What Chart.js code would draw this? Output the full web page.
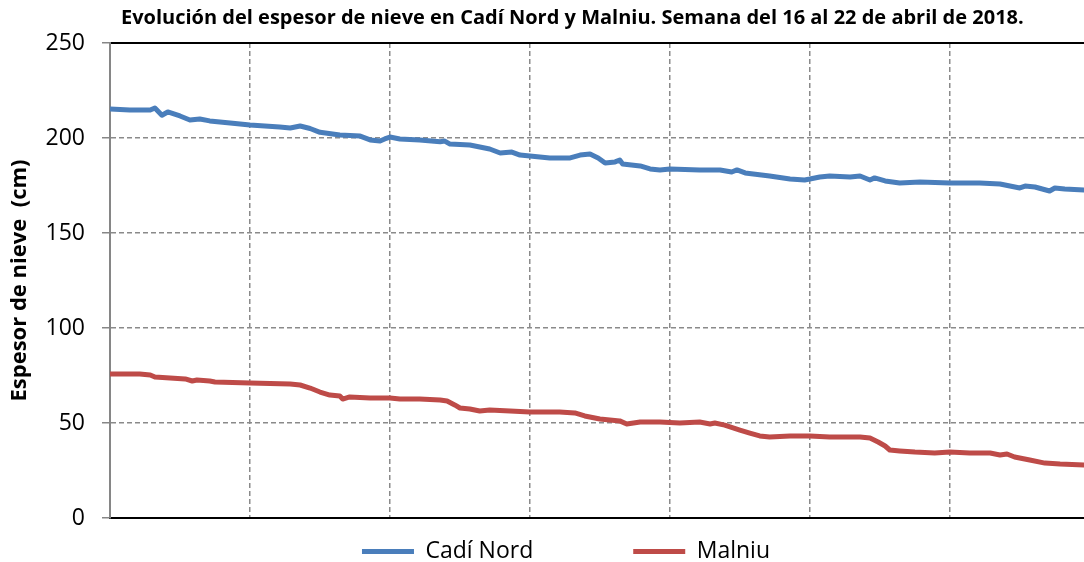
<!DOCTYPE html>
<html lang="es">
<head>
  <meta charset="UTF-8">
  <title>Espesor de nieve</title>
  <script src="https://cdn.jsdelivr.net/npm/chart.js"></script>
  <style>
    html, body { margin: 0; padding: 0; background: #fff; }
    #grafico { display: block; }
  </style>
</head>
<body>
  <canvas id="grafico" width="1084" height="562"></canvas>

  <script>
    const titulo = 'Evolución del espesor de nieve en Cadí Nord y Malniu. Semana del 16 al 22 de abril de 2018.';
    const tituloEje = 'Espesor de nieve  (cm)';
    const estaciones = ['Cadí Nord', 'Malniu'];

    // horas desde el 16/04 00h y espesor (cm)
    const horasCadi = [0, 3.4, 6.9, 7.7, 8.9, 9.9, 12, 13.7, 15.4, 17.1, 20.6, 24, 29.1, 30.9, 32.6, 34.3, 36, 39.4, 42.9, 44.6,
      46.3, 47.1, 48, 49.7, 53.1, 56.6, 57.4, 58.3, 61.7, 65.1, 66.9, 68.9, 70.3, 75.4, 78.9, 80.6, 82.3, 83.7, 84.9, 86.6,
      87.4, 87.9, 90.9, 92.6, 94.3, 96, 101.1, 104.6, 106.6, 107.5, 108.9, 113.1, 116.6, 119.1, 120, 121.7, 123.4, 126.9, 128.6, 130.3,
      131.1, 132.9, 135.4, 138.9, 144, 149.1, 152.6, 154.3, 156, 156.9, 158.6, 161.1, 162, 163.7, 167];
    const valoresCadi = [215.3, 214.7, 214.7, 215.8, 212, 213.7, 211.6, 209.5, 210, 209, 207.9, 206.8, 205.8, 205.3, 206.3, 205, 203, 201.6, 201, 199,
      198.4, 199.5, 200.5, 199.5, 199, 198, 198.4, 196.8, 196.3, 194.2, 192.1, 192.6, 191, 189.5, 189.5, 191, 191.6, 189.5, 186.8, 187.4,
      188.4, 186.3, 185.3, 183.7, 183.2, 183.7, 183.2, 183.2, 182.1, 183.2, 181.6, 180, 178.4, 177.9, 178.4, 179.5, 180, 179.5, 180, 177.9,
      179, 177.4, 176.3, 176.8, 176.3, 176.3, 175.8, 174.7, 173.7, 174.7, 174.2, 172.1, 173.7, 173.2, 172.6];

    const horasMalniu = [0, 5.1, 6.9, 7.7, 10.3, 12.9, 14.1, 14.9, 17.1, 18, 24, 30.9, 32.6, 34.3, 36, 37.7, 39.4, 39.9, 41.1, 44.6,
      48, 49.7, 53.1, 56.6, 57.8, 59.1, 60, 61.7, 63.4, 65.1, 68.6, 72, 77.1, 79.7, 81.4, 84, 85.7, 87.4, 88.6, 90.9,
      94.3, 97.7, 101.1, 102.9, 103.7, 105.4, 108, 109.7, 111.4, 113.1, 116.6, 120, 123.4, 128.6, 130.3, 131.7, 132.9, 133.7, 135.4, 138,
      141.4, 144, 147.4, 150.9, 152.6, 153.8, 155.1, 157.7, 160.3, 162.9, 167];
    const valoresMalniu = [75.8, 75.8, 75.3, 74.2, 73.7, 73.2, 72.1, 72.6, 72.1, 71.6, 71, 70.5, 70, 68.4, 66.3, 64.7, 64.2, 62.6, 63.7, 63.2,
      63.2, 62.6, 62.6, 62.1, 61.6, 59.5, 57.9, 57.4, 56.3, 56.8, 56.3, 55.8, 55.8, 55.3, 53.7, 52.1, 51.6, 51.1, 49.5, 50.5,
      50.5, 50, 50.5, 49.5, 50, 48.9, 46.3, 44.7, 43.2, 42.6, 43.2, 43.2, 42.6, 42.6, 42.1, 40, 37.9, 35.8, 35.3, 34.7,
      34.2, 34.7, 34.2, 34.2, 33.2, 33.7, 32.1, 30.5, 28.9, 28.4, 27.9];

    const yMin = 0, yMax = 250, yPaso = 50;
    const xMax = 167, xPaso = 24;

    const fuente = "'Open Sans', 'Noto Sans', sans-serif";
    const gris = '#8a8a8a';

    function puntos(horas, valores) {
      return horas.map((h, i) => ({ x: h, y: valores[i] }));
    }

    // recoloca título y leyenda como en el original
    const ajustes = {
      id: 'ajustes',
      afterLayout(chart) {
        chart.titleBlock.left = 121;
        chart.legend.left = 48;
        chart.legend.top = 440;
      }
    };

    new Chart(document.getElementById('grafico'), {
      type: 'line',
      data: {
        datasets: [
          { label: estaciones[0], data: puntos(horasCadi, valoresCadi), borderColor: '#4a7ebb', backgroundColor: '#4a7ebb',
            borderWidth: 5, pointRadius: 0, borderCapStyle: 'round', borderJoinStyle: 'round' },
          { label: estaciones[1], data: puntos(horasMalniu, valoresMalniu), borderColor: '#be4b48', backgroundColor: '#be4b48',
            borderWidth: 5, pointRadius: 0, borderCapStyle: 'round', borderJoinStyle: 'round' }
        ]
      },
      options: {
        responsive: false,
        animation: false,
        layout: { padding: 0 },
        scales: {
          x: {
            type: 'linear', min: 0, max: xMax,
            afterFit(s) { s.height = 0; },
            ticks: { display: false, stepSize: xPaso, includeBounds: false },
            grid: {
              color: ctx => (ctx.tick && ctx.tick.value === 0) ? 'rgba(0,0,0,0)' : gris,
              lineWidth: 1.5, drawTicks: false
            },
            border: { color: '#000', width: 2, dash: [5, 3] }
          },
          x2: {
            type: 'linear', position: 'top', min: 0, max: xMax,
            afterFit(s) { s.height = 0; },
            ticks: { display: false },
            grid: { display: false, drawTicks: false },
            border: { color: '#000', width: 2 }
          },
          y: {
            min: yMin, max: yMax,
            afterFit(s) { s.width = 110; },
            ticks: { stepSize: yPaso, color: '#000', font: { family: fuente, size: 23 }, padding: 17 },
            grid: {
              color: ctx => (ctx.tick && (ctx.tick.value === yMin || ctx.tick.value === yMax)) ? 'rgba(0,0,0,0)' : gris,
              lineWidth: 1.5,
              tickColor: '#868686', tickLength: 8, tickBorderDash: [], tickWidth: 1.5
            },
            border: { color: '#868686', width: 2, dash: [5, 3] },
            title: { display: true, text: tituloEje, color: '#000', font: { family: fuente, size: 22, weight: 'bold' }, padding: { top: 7, bottom: 0 } }
          }
        },
        plugins: {
          title: {
            display: true, text: titulo, align: 'start', color: '#000',
            font: { family: fuente, size: 20, weight: 'bold', lineHeight: 1.2 },
            padding: { top: 6, bottom: 13 }
          },
          legend: {
            position: 'bottom', maxHeight: 44,
            labels: {
              usePointStyle: true, pointStyle: 'line', pointStyleWidth: 52, boxHeight: 4,
              padding: 100, color: '#000', font: { family: fuente, size: 23 }
            }
          },
          tooltip: { enabled: false }
        }
      },
      plugins: [ajustes]
    });
  </script>
</body>
</html>
